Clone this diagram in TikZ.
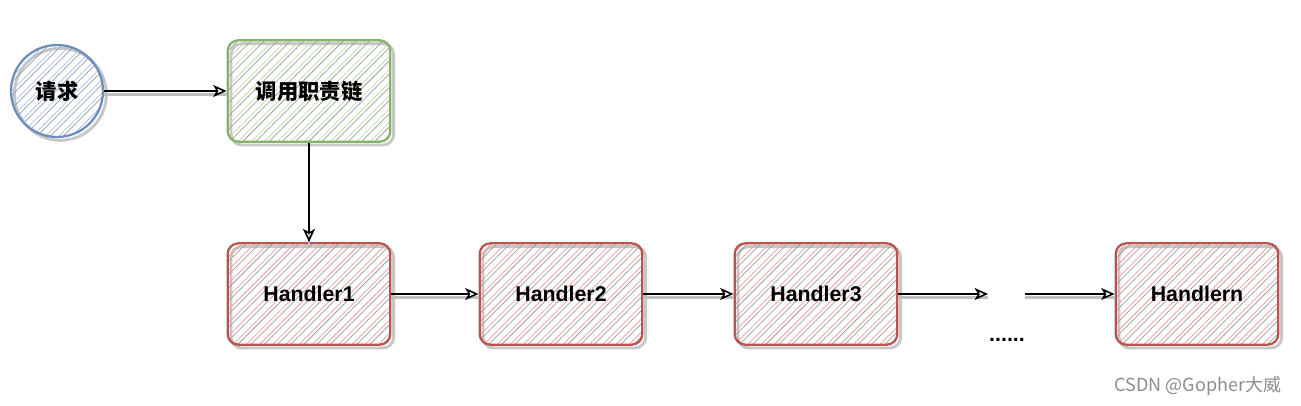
\documentclass[tikz,border=0pt]{standalone}
\usepackage{fontspec}
\setmainfont{Liberation Sans}
\newfontfamily\cjk{Noto Sans CJK SC}
\usetikzlibrary{arrows.meta,patterns.meta}
\definecolor{bluec}{HTML}{6C8EBF}
\definecolor{greenc}{HTML}{82B366}
\definecolor{redc}{HTML}{B85450}
\definecolor{bluef}{HTML}{A9C4EB}
\definecolor{greenf}{HTML}{B9E0A5}
\definecolor{redf}{HTML}{F19C99}
\tikzset{
  sketch/.style 2 args={
    preaction={draw=black!22, line width=2.2pt, transform canvas={shift={(2.5pt,-2.5pt)}}},
    preaction={pattern={Lines[angle=45,distance=7pt,line width=0.55pt]}, pattern color=#2},
    preaction={pattern={Lines[angle=45,distance=7pt,xshift=3.5pt,line width=0.55pt]}, pattern color=black!38},
    draw=#1, line width=1.7pt},
  boxnode/.style 2 args={sketch={#1}{#2}, rounded corners=8pt, minimum width=122pt,
    minimum height=76pt, inner sep=0pt, font=\bfseries\fontsize{16}{18}\selectfont},
  redbox/.style={boxnode={redc}{redf}},
  greenbox/.style={boxnode={greenc}{greenf}, font=\cjk\bfseries\fontsize{16}{18}\selectfont},
  circnode/.style={sketch={bluec}{bluef}, circle, minimum size=69pt, inner sep=0pt,
    font=\cjk\bfseries\fontsize{16}{18}\selectfont},
  arr/.style={-{Stealth[open,length=10pt,width=9pt,inset=2.5pt]}, line width=1.2pt, black,
    preaction={draw=black!25, line width=1.8pt, -, transform canvas={yshift=-2.5pt}}},
  dotstext/.style={font=\bfseries\fontsize{16}{18}\selectfont},
  wmark/.style={font=\cjk\fontsize{13.5}{15}\selectfont, text=black!45}
}
\begin{document}
\begin{tikzpicture}[x=0.75pt,y=-0.75pt]
\useasboundingbox (0,0) rectangle (1301,406);
\node[circnode] (req) at (57,91) {请求};
\node[greenbox] (chain) at (309,91) {调用职责链};
\node[redbox] (h1) at (309,294) {Handler1};
\node[redbox] (h2) at (561,294) {Handler2};
\node[redbox] (h3) at (816,294) {Handler3};
\node[redbox] (hn) at (1197,294) {Handlern};
\coordinate (d1) at (988,294);
\coordinate (d2) at (1025,294);
\node[dotstext] (dd) at (1007,340) {......};
\node[wmark, anchor=east] (wm) at (1286,386) {CSDN @Gopher大威};
\draw[arr] (req) -- (chain);
\draw[arr] (chain) -- (h1);
\draw[arr] (h1) -- (h2);
\draw[arr] (h2) -- (h3);
\draw[arr] (h3) -- (d1);
\draw[arr] (d2) -- (hn);
\end{tikzpicture}
\end{document}
